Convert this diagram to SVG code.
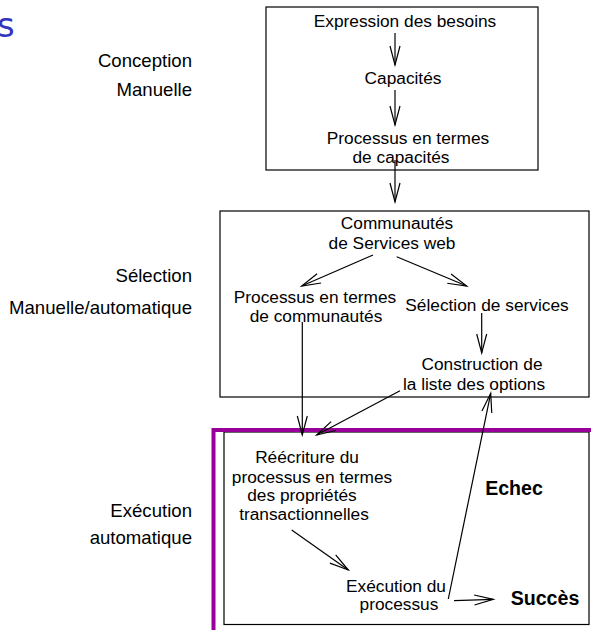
<svg xmlns="http://www.w3.org/2000/svg" width="591" height="630" viewBox="0 0 591 630">
<style>
.t{font-family:"Liberation Sans",Arial,sans-serif;font-size:17.3px;fill:#000;text-anchor:middle}
.side{font-family:"Liberation Sans",Arial,sans-serif;font-size:18.6px;fill:#000;text-anchor:end}
.b{font-family:"Liberation Sans",Arial,sans-serif;font-size:19.6px;font-weight:bold;fill:#000;text-anchor:middle}
.box{fill:none;stroke:#000;stroke-width:1.2}
.c line{stroke:#000;stroke-width:1.2;marker-end:url(#ah)}
</style>
<defs>
<marker id="ah" markerUnits="userSpaceOnUse" markerWidth="24" markerHeight="14" viewBox="-21 -7 24 14" refX="0" refY="0" orient="auto">
<path d="M-19,-5 L0,0 L-19,5" fill="none" stroke="#000" stroke-width="1.2"/>
</marker>
</defs>
<rect width="591" height="630" fill="#fff"/>
<text x="-3" y="37" font-family="DejaVu Sans,sans-serif" font-size="34" fill="#3535c0">s</text>
<g id="labels">
<text class="side" x="192" y="67">Conception</text>
<text class="side" x="192" y="96">Manuelle</text>
<text class="side" x="192" y="282">Sélection</text>
<text class="side" x="192" y="314">Manuelle/automatique</text>
<text class="side" x="192" y="517">Exécution</text>
<text class="side" x="192" y="544">automatique</text>
</g>
<g id="box-conception"><rect class="box" x="266" y="7" width="272" height="163"/></g>
<g id="box-selection"><rect class="box" x="220" y="211" width="369" height="186"/></g>
<g id="box-execution"><rect class="box" x="224" y="432" width="365" height="192.5"/></g>
<path id="purple-frame" d="M213.5,630 V430 H591" fill="none" stroke="#990099" stroke-width="4"/>
<g id="n-besoins"><text class="t" x="405" y="27">Expression des besoins</text></g>
<g id="n-capacites"><text class="t" x="403" y="84">Capacités</text></g>
<g id="n-proc-capacites"><text class="t" x="408" y="144">Processus en termes</text><text class="t" x="401" y="163">de capacités</text></g>
<g id="n-communautes"><text class="t" x="397" y="229">Communautés</text><text class="t" x="392" y="249">de Services web</text></g>
<g id="n-proc-communautes"><text class="t" x="315" y="303">Processus en termes</text><text class="t" x="316" y="322">de communautés</text></g>
<g id="n-selection"><text class="t" x="487" y="311">Sélection de services</text></g>
<g id="n-construction"><text class="t" x="482" y="370">Construction de</text><text class="t" x="474" y="390">la liste des options</text></g>
<g id="n-reecriture"><text class="t" x="307" y="463">Réécriture du</text><text class="t" x="312" y="482.5">processus en termes</text><text class="t" x="302" y="501">des propriétés</text><text class="t" x="304" y="519.5">transactionnelles</text></g>
<g id="n-echec"><text class="b" x="514" y="495">Echec</text></g>
<g id="n-execution"><text class="t" x="396" y="592">Exécution du</text><text class="t" x="399" y="610">processus</text></g>
<g id="n-succes"><text class="b" x="545" y="605">Succès</text></g>
<g id="connectors" class="c">
<line x1="395" y1="33" x2="395" y2="65"/>
<line x1="395" y1="90" x2="395" y2="125"/>
<line x1="395" y1="160" x2="395" y2="202"/>
<line x1="373" y1="255" x2="301.7" y2="286"/>
<line x1="396.7" y1="256.7" x2="466.7" y2="286"/>
<line x1="481.7" y1="313" x2="481.7" y2="353"/>
<line x1="302.3" y1="322" x2="302.3" y2="435"/>
<line x1="400" y1="390.7" x2="316.7" y2="435"/>
<line x1="448.3" y1="599" x2="490.7" y2="393.3"/>
<line x1="291.7" y1="530" x2="348.3" y2="570"/>
<line x1="454" y1="600.7" x2="493.3" y2="599.3"/>
</g>
</svg>
